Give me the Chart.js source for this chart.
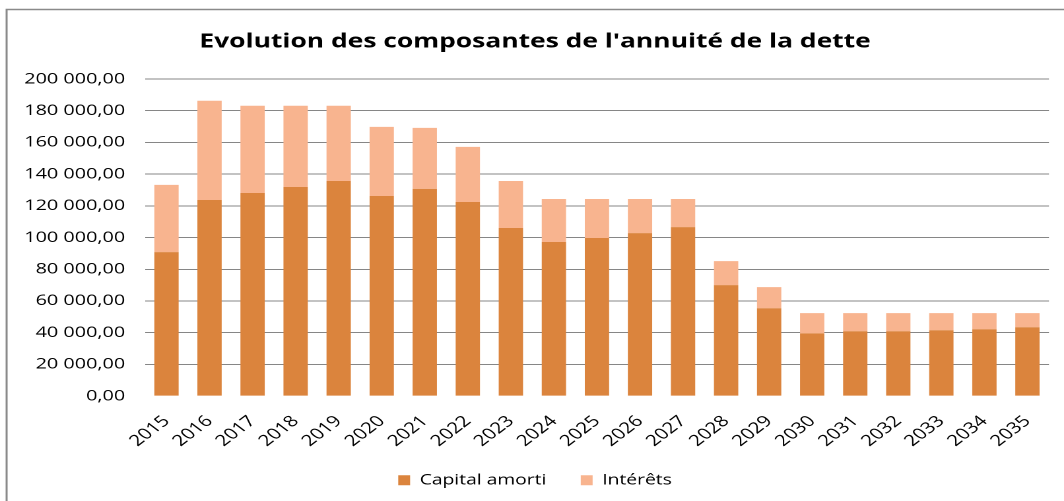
<!DOCTYPE html>
<html>
<head>
<meta charset="utf-8">
<script src="https://cdn.jsdelivr.net/npm/chart.js@4/dist/chart.umd.min.js"></script>
<style>
  html, body { margin: 0; padding: 0; background: #fff; overflow: hidden; }
  /* the reference picture is stretched sideways, so the chart is drawn narrow and widened */
  #wrap { width: 806px; height: 501px; transform: scaleX(1.3201); transform-origin: 0 0; }
</style>
</head>
<body>
<div id="wrap"><canvas id="myChart"></canvas></div>
<script>
const years = ["2015", "2016", "2017", "2018", "2019", "2020", "2021", "2022", "2023", "2024", "2025",
  "2026", "2027", "2028", "2029", "2030", "2031", "2032", "2033", "2034", "2035"];
const capitalAmorti = [90800, 123700, 128100, 131900, 135700, 126200, 130700, 122400, 106000, 97200, 99700,
  102800, 106600, 70000, 55400, 39600, 40900, 40900, 41500, 42200, 43400];
const interets = [42400, 62600, 55000, 51200, 47400, 43600, 38500, 34800, 29700, 27100, 24600,
  21500, 17700, 15100, 13300, 12700, 11400, 11400, 10800, 10100, 8900];
const yMax = 200000;
const yStep = 20000;

const FONT = "'Open Sans', 'DejaVu Sans', sans-serif";

// "200 000,00" style labels
function fmt(v) {
  const parts = v.toFixed(2).split(".");
  return parts[0].replace(/\B(?=(\d{3})+(?!\d))/g, " ") + "," + parts[1];
}

// grey frame round the chart (left and top edges are the only ones visible)
const framePlugin = {
  id: "frame",
  beforeDraw(chart) {
    const c = chart.ctx;
    c.save();
    c.strokeStyle = "#8a8a8a";
    c.lineWidth = 1.5;
    c.beginPath();
    c.moveTo(5, 501);
    c.lineTo(5, 9.5);
    c.lineTo(chart.width, 9.5);
    c.stroke();
    c.restore();
  }
};

const ctx = document.getElementById("myChart").getContext("2d");
new Chart(ctx, {
  type: "bar",
  data: {
    labels: years,
    datasets: [
      { label: "Capital amorti", data: capitalAmorti, backgroundColor: "#DB843D" },
      { label: "Intérêts", data: interets, backgroundColor: "#F8B48F" }
    ]
  },
  options: {
    responsive: true,
    maintainAspectRatio: false,
    devicePixelRatio: 2,
    animation: false,
    layout: { padding: { left: 16, right: 11.4, top: 0, bottom: 3.5 } },
    datasets: { bar: { barPercentage: 0.565, categoryPercentage: 1 } },
    plugins: {
      title: {
        display: true,
        text: "Evolution des composantes de l'annuité de la dette",
        color: "#000",
        font: { family: FONT, size: 20, weight: "bold" },
        padding: { top: 30, bottom: 25 }
      },
      legend: {
        position: "bottom",
        labels: {
          color: "#000",
          font: { family: FONT, size: 14.6 },
          boxWidth: 9,
          boxHeight: 10,
          padding: 26
        }
      },
      tooltip: { enabled: false }
    },
    scales: {
      x: {
        stacked: true,
        grid: { display: false },
        border: { display: false },
        ticks: {
          color: "#000",
          font: { family: FONT, size: 15.5 },
          maxRotation: 45,
          minRotation: 45,
          padding: 8
        },
        afterFit(scale) { scale.height = 50.8; }
      },
      y: {
        stacked: true,
        min: 0,
        max: yMax,
        border: { display: false },
        grid: {
          color: c => (c.tick && c.tick.value === 0 ? "rgba(0,0,0,0)" : "#868686"),
          lineWidth: 1,
          drawTicks: false
        },
        ticks: {
          stepSize: yStep,
          color: "#000",
          font: { family: FONT, size: 15 },
          padding: 15,
          callback: v => fmt(v)
        },
        afterFit(scale) { scale.width = 93.8; }
      }
    }
  },
  plugins: [framePlugin]
});
</script>
</body>
</html>
